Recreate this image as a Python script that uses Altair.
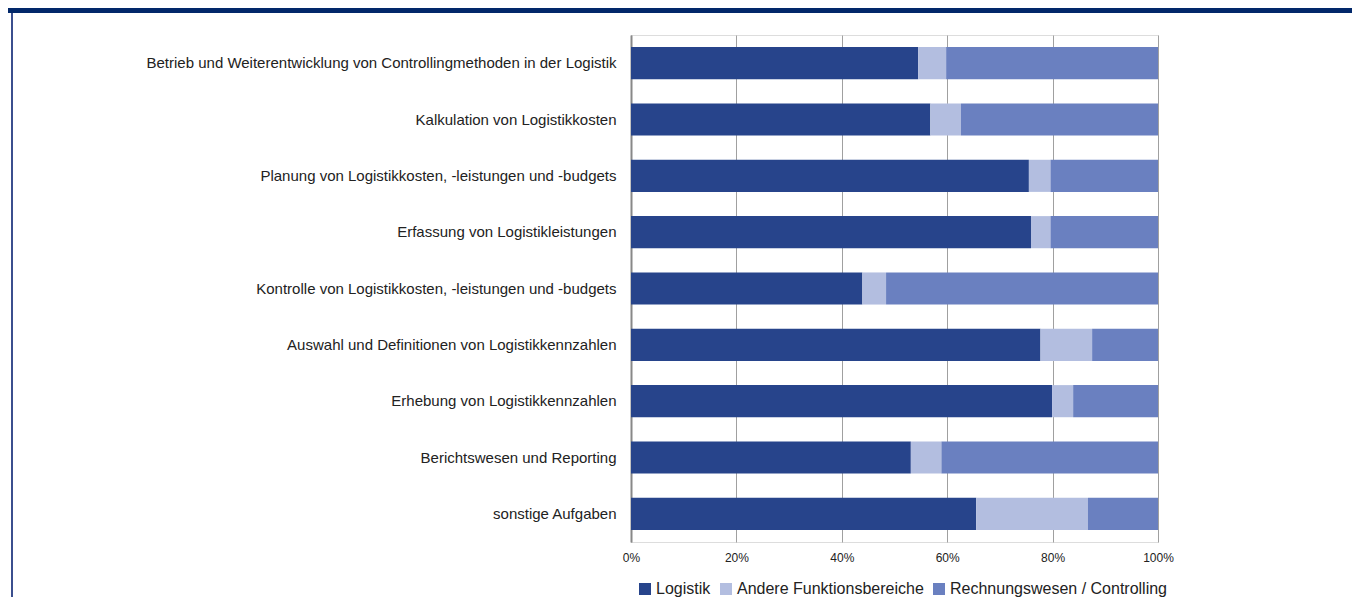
import altair as alt
import pandas as pd

categories = [
    "Betrieb und Weiterentwicklung von Controllingmethoden in der Logistik",
    "Kalkulation von Logistikkosten",
    "Planung von Logistikkosten, -leistungen und -budgets",
    "Erfassung von Logistikleistungen",
    "Kontrolle von Logistikkosten, -leistungen und -budgets",
    "Auswahl und Definitionen von Logistikkennzahlen",
    "Erhebung von Logistikkennzahlen",
    "Berichtswesen und Reporting",
    "sonstige Aufgaben",
]
series_names = ["Logistik", "Andere Funktionsbereiche", "Rechnungswesen / Controlling"]
logistik = [54.5, 56.8, 75.5, 75.9, 43.9, 77.7, 79.9, 53.1, 65.5]
andere = [5.3, 5.8, 4.1, 3.7, 4.5, 9.8, 4.0, 5.8, 21.2]
rechnung = [40.2, 37.4, 20.4, 20.4, 51.6, 12.5, 16.1, 41.1, 13.3]
colors = ["#27448b", "#b3bee0", "#6a80c0"]
x_ticks = [0, 0.2, 0.4, 0.6, 0.8, 1.0]

rows = []
for si, (name, vals) in enumerate(zip(series_names, [logistik, andere, rechnung])):
    for c, v in zip(categories, vals):
        rows.append({"Aufgabe": c, "Serie": name, "Wert": v, "ord": si})
df = pd.DataFrame(rows)

FONT = "Liberation Sans"

bars = alt.Chart(df).mark_bar().encode(
    y=alt.Y("Aufgabe:N", sort=categories,
            scale=alt.Scale(paddingInner=0.43, paddingOuter=0.215),
            axis=alt.Axis(title=None, ticks=False, domain=True, domainColor="#888888",
                          domainWidth=2, labelPadding=15, labelFontSize=15,
                          labelColor="#222222", labelFont=FONT, labelLimit=600, grid=False)),
    x=alt.X("Wert:Q", stack="normalize",
            scale=alt.Scale(domain=[0, 1]),
            axis=alt.Axis(title=None, values=x_ticks, format=".0%", ticks=False, domain=False,
                          grid=True, gridColor="#a0a0a0", gridWidth=1, labelPadding=10,
                          labelFlush=False,
                          labelFontSize=12, labelColor="#222222", labelFont=FONT)),
    color=alt.Color("Serie:N",
                    scale=alt.Scale(domain=series_names, range=colors),
                    legend=alt.Legend(title=None, orient="none", legendX=6, legendY=546,
                                      direction="horizontal", symbolType="square",
                                      symbolSize=144, symbolStrokeWidth=0,
                                      labelFontSize=16, labelFont=FONT, labelColor="#222222",
                                      labelOffset=3, columnPadding=7, labelLimit=400)),
    order=alt.Order("ord:Q"),
)

deco_df = pd.DataFrame({"k": [0]})
banner = alt.Chart(deco_df).mark_rect(color="#02286a").encode(
    x=alt.value(-623), x2=alt.value(721), y=alt.value(-27), y2=alt.value(-22)
)
border = alt.Chart(deco_df).mark_rule(color="#3b4f8e", strokeWidth=2).encode(
    x=alt.value(-619), y=alt.value(-22), y2=alt.value(620)
)

chart = alt.layer(banner, border, bars).properties(
    width=527, height=507,
    padding={"left": 623, "top": 27, "right": 194, "bottom": 70},
    autosize=alt.AutoSizeParams(type="none"),
).configure_view(stroke=None).configure(background="white")

chart.save("out.html", embed_options={"renderer": "svg", "actions": False})
